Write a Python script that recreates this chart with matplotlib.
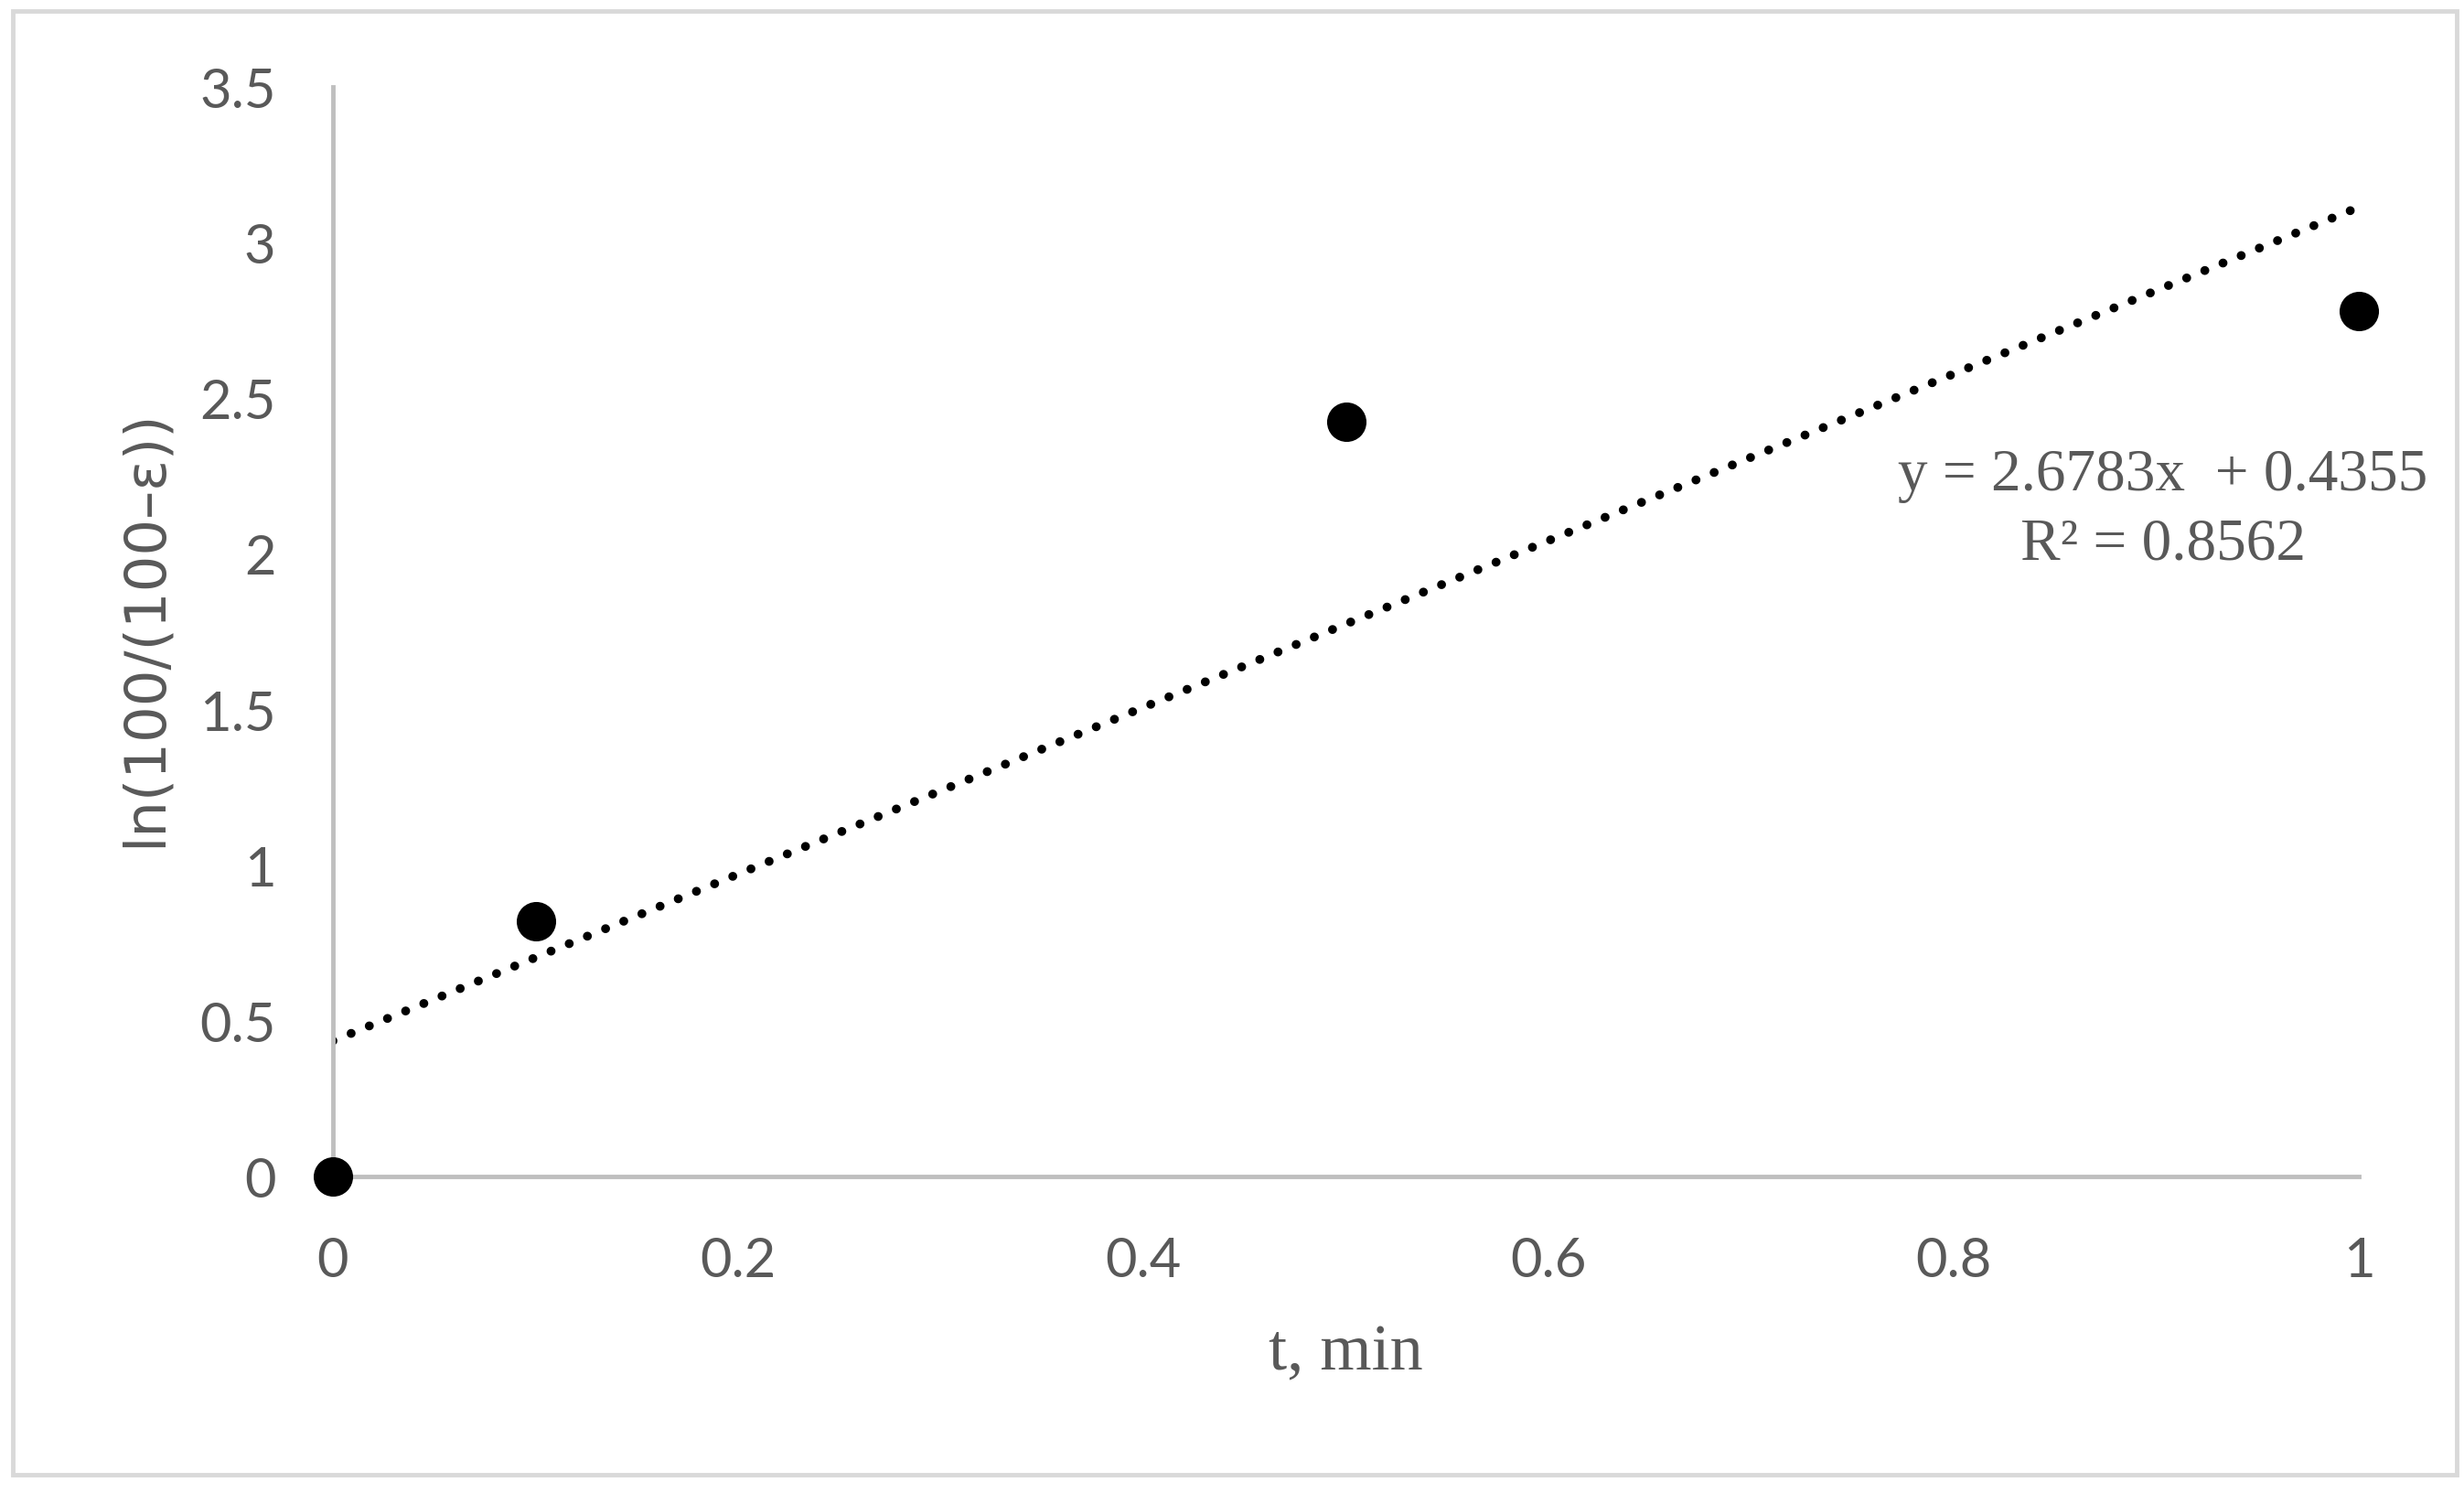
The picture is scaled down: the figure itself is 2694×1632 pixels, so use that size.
import numpy as np
import matplotlib
matplotlib.use("Agg")
import matplotlib.pyplot as plt
from matplotlib.patches import Rectangle

# data
t_min = [0.0, 0.1, 0.5, 1.0]
ln_ratio = [0.0, 0.82, 2.425, 2.78]
# trendline coefficients as printed on the chart
slope, intercept = 2.6783, 0.4355
r_squared = 0.8562

x_ticks = [0, 0.2, 0.4, 0.6, 0.8, 1]
x_tick_labels = ["0", "0.2", "0.4", "0.6", "0.8", "1"]
y_ticks = [0, 0.5, 1, 1.5, 2, 2.5, 3, 3.5]
y_tick_labels = ["0", "0.5", "1", "1.5", "2", "2.5", "3", "3.5"]

GREY_TXT = "#595959"
GREY_AX = "#bfbfbf"

W, H = 2694, 1633
fig = plt.figure(figsize=(W / 100, H / 100), dpi=100)
ax = fig.add_axes([364 / W, 1 - 1287 / H, 2215 / W, (1287 - 96) / H])

# outer chart border
fig.patches.append(Rectangle((14 / W, 1 - 1613 / H), (2686 - 14) / W, (1613 - 13) / H,
                             transform=fig.transFigure, fill=False,
                             ec="#d9d9d9", lw=3.5))

# linear trendline, round dots
xs = np.array([0.0, 1.0])
ax.plot(xs, slope * xs + intercept, color="black", lw=7,
        linestyle=(0, (0.01, 2.2)), dash_capstyle="round", zorder=2)

ax.plot(t_min, ln_ratio, "o", color="black", ms=30, clip_on=False, zorder=3)

ax.set_xlim(0, 1)
ax.set_ylim(0, 3.5)
ax.set_xticks(x_ticks)
ax.set_xticklabels(x_tick_labels)
ax.set_yticks(y_ticks)
ax.set_yticklabels(y_tick_labels)
ax.tick_params(length=0, labelsize=43, labelcolor=GREY_TXT)
ax.tick_params(axis="x", pad=47)
ax.tick_params(axis="y", pad=45)
for lab in ax.get_xticklabels() + ax.get_yticklabels():
    lab.set_family("Lato")

for side in ("top", "right"):
    ax.spines[side].set_visible(False)
for side in ("left", "bottom"):
    ax.spines[side].set_color(GREY_AX)
    ax.spines[side].set_linewidth(3.5)
ax.set_facecolor("none")

fig.text(159 / W, 1 - 687 / H, "ln(100/(100–ε))", rotation=90,
         ha="center", va="center", fontsize=45, color=GREY_TXT,
         family="DejaVu Sans")
fig.text(1471 / W, 1 - 1480 / H, "t, min", ha="center", va="center",
         fontsize=52, color=GREY_TXT, family="Liberation Serif")

ax.text(0.9034, 2.254, f"y = {slope}x  + {intercept}", ha="center", va="center",
        fontsize=47, color=GREY_TXT, family="Liberation Serif")
ax.text(0.9034, 2.031, f"R² = {r_squared}", ha="center", va="center",
        fontsize=47, color=GREY_TXT, family="Liberation Serif")

fig.savefig("out.png", dpi=100)
plt.close(fig)
